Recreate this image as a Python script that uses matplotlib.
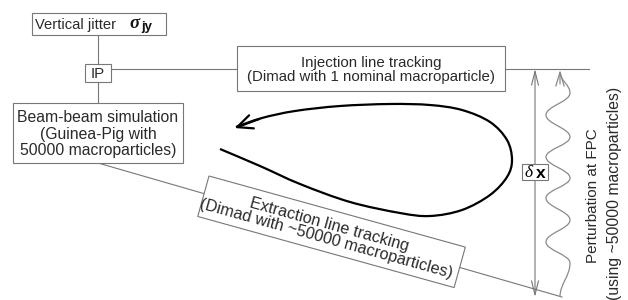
import matplotlib.pyplot as plt
import numpy as np
from matplotlib.patches import Rectangle, FancyArrowPatch, PathPatch
from matplotlib.path import Path

plt.rcParams['font.family'] = ['Liberation Sans', 'DejaVu Sans']

# diagram geometry, in pixels (y grows downward)
box_labels = ["IP",
              "Injection line tracking\n(Dimad with 1 nominal macroparticle)",
              "Beam-beam simulation\n(Guinea-Pig with\n50000 macroparticles)"]
box_x0 = [85, 237, 13]
box_y0 = [64, 46, 103]
box_w = [26, 268, 170]
box_h = [18, 45, 60]
box_fs = [10.8, 10.8, 11.3]
box_ls = [1.0, 1.0, 1.15]

jitter_box = (32, 13, 134, 22)
extraction_label = "Extraction line tracking\n(Dimad with ~50000 macroparticles)"
extraction_box = (209, 176, 266, 42)
extraction_angle = 15.5

# thick loop (path of the beam), ends in an arrow
loop_x = [220, 260, 300, 350, 400, 430, 462, 490, 507, 512, 507, 490, 462, 430, 390, 340, 295, 262, 236]
loop_y = [149, 166, 184, 202, 213, 216, 210, 195, 177, 160, 140, 122, 110, 105, 104, 106, 111, 118, 127]

# wavy perturbation line, extremes top to bottom
wave_x = [560, 570, 546, 570, 546, 570, 546, 570, 546, 570, 560]
wave_y = [72, 93, 115, 137, 157, 178, 198, 220, 242, 263, 297]

GREY = '#777777'
TXT = '#2a2a2a'


def catmull_path(xs, ys):
    pts = np.column_stack([xs, ys]).astype(float)
    verts = [pts[0]]
    codes = [Path.MOVETO]
    n = len(pts)
    for i in range(n - 1):
        p0 = pts[i - 1] if i > 0 else pts[i]
        p1, p2 = pts[i], pts[i + 1]
        p3 = pts[i + 2] if i + 2 < n else pts[i + 1]
        verts += [p1 + (p2 - p0) / 6, p2 - (p3 - p1) / 6, p2]
        codes += [Path.CURVE4] * 3
    return Path(verts, codes)


def wave_path(xs, ys, k=0.4):
    verts = [(xs[0], ys[0])]
    codes = [Path.MOVETO]
    for i in range(len(xs) - 1):
        dy = ys[i + 1] - ys[i]
        verts += [(xs[i], ys[i] + k * dy), (xs[i + 1], ys[i + 1] - k * dy), (xs[i + 1], ys[i + 1])]
        codes += [Path.CURVE4] * 3
    return Path(verts, codes)


fig = plt.figure(figsize=(6.28, 3.0), dpi=100)
ax = fig.add_axes([0, 0, 1, 1])
ax.set_xlim(0, 628)
ax.set_ylim(300, 0)
ax.axis('off')

# connecting lines
ax.plot([98, 98], [35, 103], color=GREY, lw=0.8, zorder=1)
ax.plot([111, 589], [69, 69], color=GREY, lw=0.8, zorder=1)
ax.plot([98, 562], [163, 297], color=GREY, lw=0.8, zorder=1)

# boxes with text
for lab, x0, y0, w, h, fs, ls in zip(box_labels, box_x0, box_y0, box_w, box_h, box_fs, box_ls):
    ax.add_patch(Rectangle((x0, y0), w, h, fc='white', ec=GREY, lw=0.8, zorder=2))
    ax.text(x0 + w / 2, y0 + h / 2 + 1, lab, ha='center', va='center', fontsize=fs,
            color=TXT, linespacing=ls, zorder=3)

jx, jy, jw, jh = jitter_box
ax.add_patch(Rectangle((jx, jy), jw, jh, fc='white', ec=GREY, lw=0.8, zorder=2))
ax.text(35, jy + jh / 2 + 1, "Vertical jitter", ha='left', va='center', fontsize=10.6, color=TXT, zorder=3)
ax.text(129, jy + jh / 2 - 1, "σ", ha='left', va='center', fontsize=13.5, color='#111111',
        family='Liberation Serif', style='italic', weight='bold', zorder=3)
ax.text(141, jy + jh / 2 + 3, "jy", ha='left', va='center', fontsize=9.5, color='#111111',
        weight='bold', zorder=3)

# rotated extraction box
ex, ey, ew, eh = extraction_box
ax.add_patch(Rectangle((ex, ey), ew, eh, angle=extraction_angle, fc='white', ec=GREY, lw=0.8, zorder=2))
th = np.deg2rad(extraction_angle)
u = np.array([np.cos(th), np.sin(th)])
v = np.array([-np.sin(th), np.cos(th)])
c = np.array([ex, ey]) + u * ew / 2 + v * eh / 2
ax.text(c[0] - 4, c[1], extraction_label, ha='center', va='center', rotation=-extraction_angle,
        rotation_mode='anchor', fontsize=11.7, color=TXT, linespacing=0.95, zorder=3)

# beam loop with arrow head
ax.add_patch(PathPatch(catmull_path(loop_x, loop_y), fc='none', ec='black', lw=1.6, zorder=4))
ax.add_patch(FancyArrowPatch((loop_x[-2], loop_y[-2]), (232, 129),
                             arrowstyle='->,head_length=11,head_width=5', color='black', lw=1.6,
                             mutation_scale=1, zorder=4))

# delta x double arrow
ax.add_patch(FancyArrowPatch((535, 69), (535, 297), arrowstyle='<->,head_length=10,head_width=2.5',
                             color=GREY, lw=0.8, mutation_scale=1, shrinkA=0, shrinkB=0, zorder=1))
ax.add_patch(Rectangle((522, 164), 26, 16, fc='white', ec=GREY, lw=0.8, zorder=2))
ax.text(529, 173, "δ", ha='center', va='center', fontsize=12.5, color='black',
        family='Liberation Serif', style='italic', zorder=3)
ax.text(541, 173, "x", ha='center', va='center', fontsize=12.5, color='black', weight='bold', zorder=3)

# perturbation wave
ax.add_patch(PathPatch(wave_path(wave_x, wave_y), fc='none', ec='#8a8a8a', lw=0.9, zorder=1))
ax.add_patch(FancyArrowPatch((560, 84), (560, 70), arrowstyle='->,head_length=10,head_width=3',
                             color='#8a8a8a', lw=0.9, mutation_scale=1, shrinkA=0, shrinkB=0, zorder=1))

ax.text(593, 196, "Perturbation at FPC", ha='center', va='center', rotation=90,
        fontsize=11, color=TXT)
ax.text(614, 193, "(using ~50000 macroparticles)", ha='center', va='center', rotation=90,
        fontsize=11.3, color=TXT)

fig.savefig('out.png', dpi=100)
